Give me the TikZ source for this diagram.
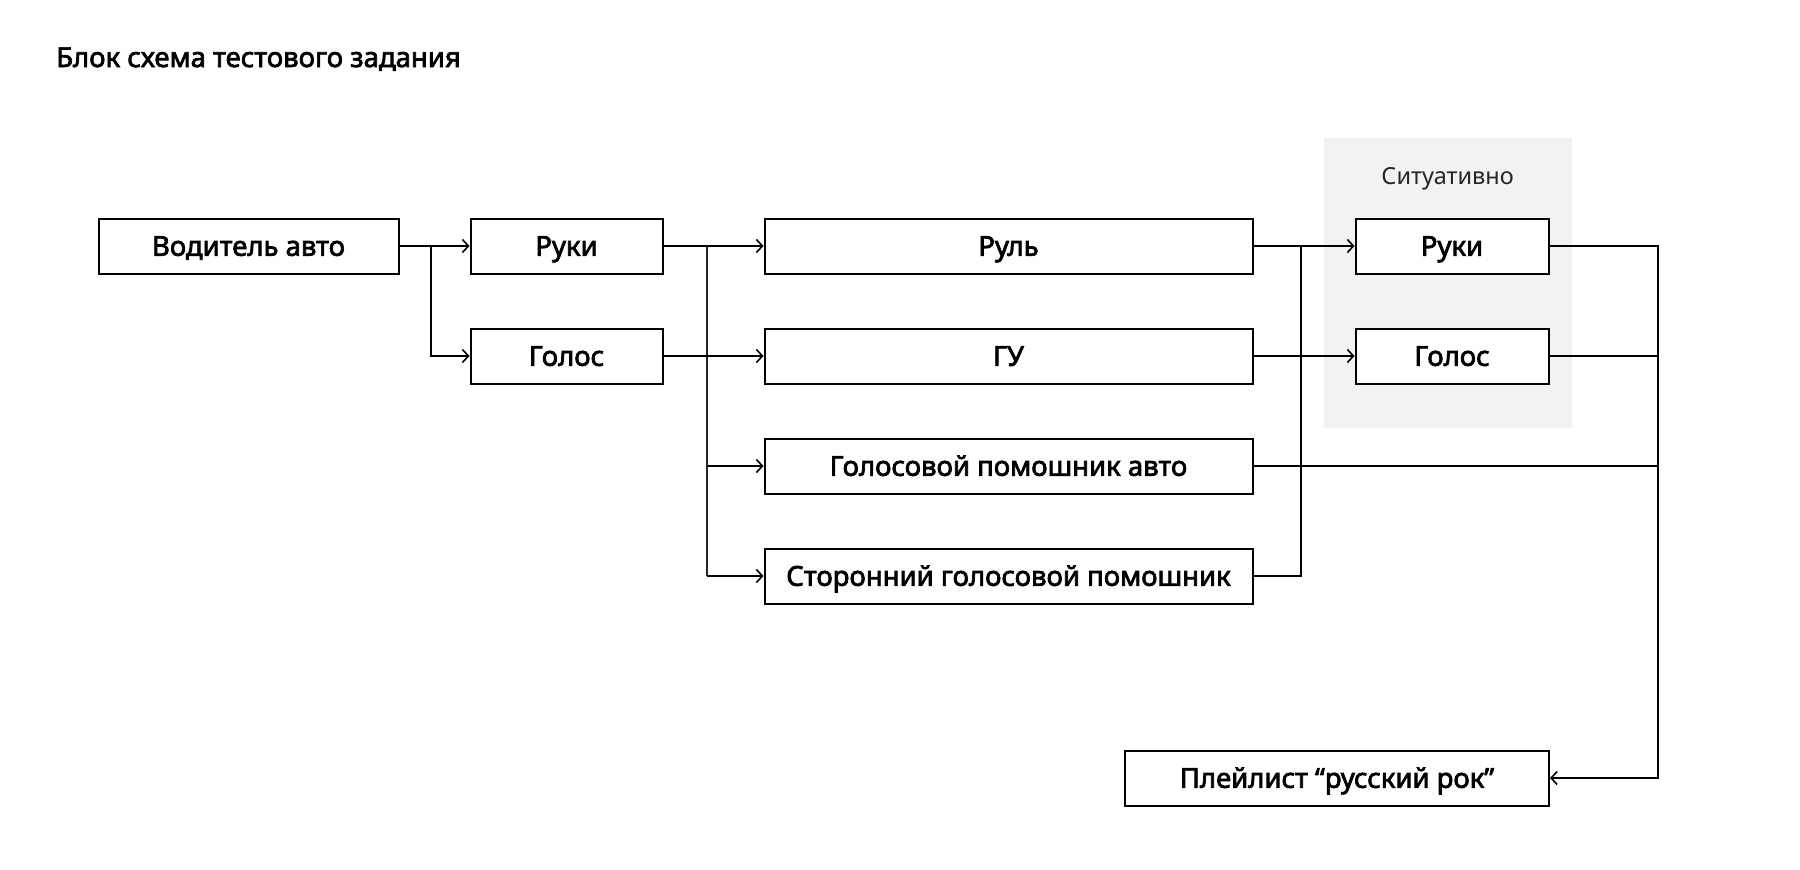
\documentclass[tikz,border=0pt]{standalone}
\usepackage{fontspec}
\usetikzlibrary{arrows.meta}
\newfontfamily\medfont{Noto Sans}[FakeBold=2.6]
\newfontfamily\regfont{Noto Sans}
\definecolor{zonegray}{HTML}{F2F2F2}
\definecolor{ink}{HTML}{000000}
\tikzset{
  box/.style={draw=ink, line width=2pt, minimum height=55pt, inner sep=0pt,
    fill=white, font=\medfont\fontsize{27.5}{32}\selectfont,
    text height=19.6pt, text depth=0pt},
  link/.style={draw=ink, line width=2pt},
  thinlink/.style={draw=ink!85, line width=1.5pt},
  arr/.style={-{Straight Barb[length=6pt,width=13pt,line width=1.6pt]}},
}
\begin{document}
\begin{tikzpicture}[x=1pt,y=-1pt]
  \useasboundingbox (0,0) rectangle (1800,870);

  % title
  \node[anchor=base west, inner sep=0pt, font=\medfont\fontsize{27.5}{32}\selectfont]
    (title) at (56,67) {Блок схема тестового задания};

  % shaded group for situational inputs
  \node[fill=zonegray, minimum width=248pt, minimum height=290.4pt, inner sep=0pt]
    (zone) at (1447.6,283) {};
  \node[font=\regfont\fontsize{23.5}{28}\selectfont, text=ink!85,
    text height=16.8pt, text depth=0pt, inner sep=0pt] (zonelabel) at (1447.6,176) {Ситуативно};

  % boxes
  \node[box, minimum width=300pt] (drv) at (248.5,246) {Водитель авто};
  \node[box, minimum width=192pt] (h1) at (566.5,246) {Руки};
  \node[box, minimum width=192pt] (v1) at (566.5,356) {Голос};
  \node[box, minimum width=488pt] (rul) at (1008.5,246) {Руль};
  \node[box, minimum width=488pt] (gu) at (1008.5,356) {ГУ};
  \node[box, minimum width=488pt] (gpa) at (1008.5,466) {Голосовой помошник авто};
  \node[box, minimum width=488pt] (sgp) at (1008.5,576) {Сторонний голосовой помошник};
  \node[box, minimum width=193pt] (h2) at (1452,246) {Руки};
  \node[box, minimum width=193pt] (v2) at (1452,356) {Голос};
  \node[box, minimum width=424pt] (pl) at (1337,778) {Плейлист “русский рок”};

  % junction points
  \coordinate (j1) at (430.5,246);
  \coordinate (j2) at (707.2,246);
  \coordinate (j3) at (1300.7,246);
  \coordinate (j4) at (1657.7,246);

  % driver to hands / voice
  \draw[link, arr] (drv.east) -- (h1.west);
  \draw[link, arr] (j1) |- (v1.west);

  % hands / voice to devices
  \draw[thinlink] (j2) -- (j2 |- sgp.west);
  \draw[link, arr] (h1.east) -- (rul.west);
  \draw[link, arr] (v1.east) -- (gu.west);
  \draw[link, arr] (j2 |- gpa.west) -- (gpa.west);
  \draw[link, arr] (j2 |- sgp.west) -- (sgp.west);

  % devices to situational inputs
  \draw[link, arr] (rul.east) -- (h2.west);
  \draw[link, arr] (gu.east) -- (v2.west);
  \draw[link] (sgp.east) -| (j3);

  % everything into the playlist
  \draw[link] (gpa.east) -- (gpa.east -| j4);
  \draw[link] (v2.east) -- (v2.east -| j4);
  \draw[link, arr] (h2.east) -| (j4 |- pl.east) -- (pl.east);
\end{tikzpicture}
\end{document}
